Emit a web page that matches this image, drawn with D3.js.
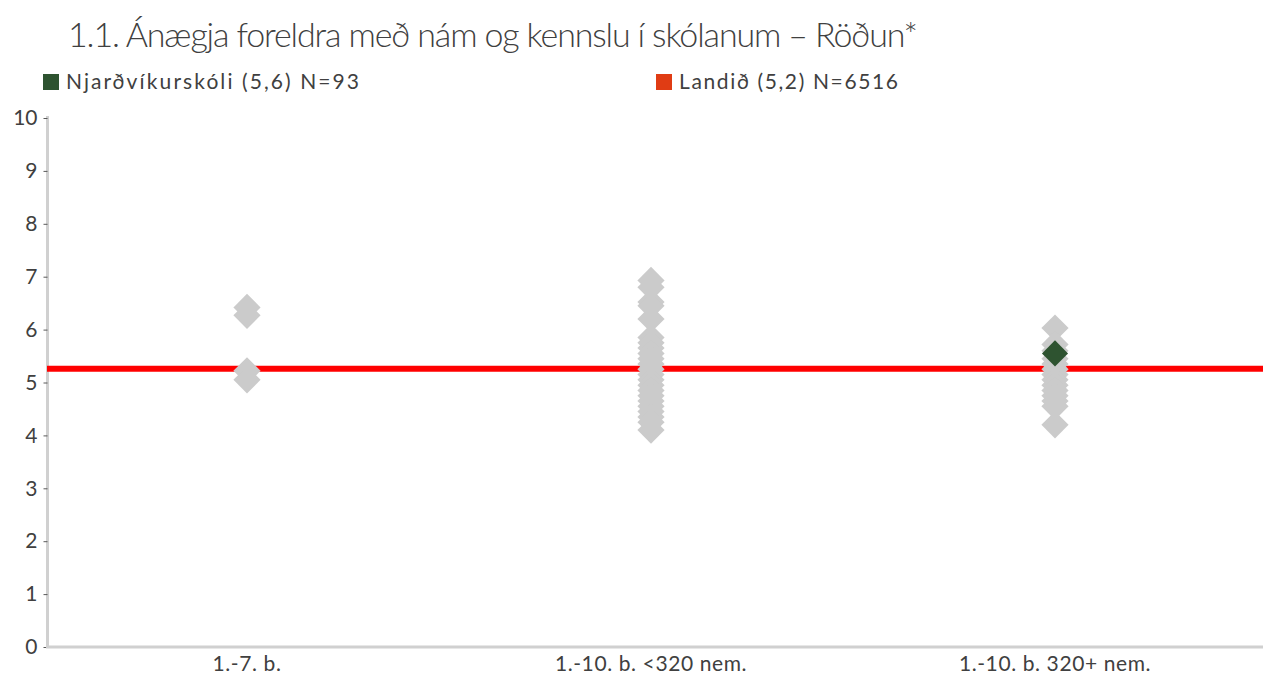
<!DOCTYPE html>
<html><head><meta charset="utf-8">
<script src="https://cdn.jsdelivr.net/npm/d3@7"></script>
<style>body{margin:0;background:#fff}svg{display:block}text{font-family:Lato,"Open Sans",sans-serif}</style>
</head><body>
<script>
const titleText = "1.1. Ánægja foreldra með nám og kennslu í skólanum – Röðun*";
const categories = ["1.-7. b.", "1.-10. b. <320 nem.", "1.-10. b. 320+ nem."];
const legendLabels = ["Njarðvíkurskóli (5,6) N=93", "Landið (5,2) N=6516"];
const yTicks = [0,1,2,3,4,5,6,7,8,9,10];
const group1 = [6.42, 6.27, 5.22, 5.05];
const group2 = [6.93, 6.8, 6.52, 6.45, 6.2, 5.85, 5.75, 5.65, 5.55, 5.45, 5.35, 5.25, 5.15, 5.05, 4.95, 4.85, 4.75, 4.65, 4.55, 4.45, 4.35, 4.25, 4.1];
const group3 = [6.03, 5.72, 5.6, 5.45, 5.35, 5.25, 5.15, 5.05, 4.95, 4.85, 4.75, 4.65, 4.55, 4.2];
const schoolCategory = "1.-10. b. 320+ nem.";
const schoolValue = 5.55;
const nationalValue = 5.26;

const W = 1272, H = 679;
const svg = d3.select("body").append("svg").attr("width", W).attr("height", H);
const y = d3.scaleLinear().domain([0, 10]).range([647, 118]);
const x = d3.scaleBand().domain(categories).range([45, 1257]);

// title
svg.append("text").attr("x", 68).attr("y", 47).attr("font-size", 34).attr("font-weight", 300)
  .attr("fill", "#404040").attr("textLength", 850).attr("lengthAdjust", "spacing").text(titleText);

// legend
const legendColors = ["#2E5330", "#E03C14"];
const legendX = [43, 656];
const legendW = [296, 222];
legendLabels.forEach((l, i) => {
  svg.append("rect").attr("x", legendX[i]).attr("y", 74).attr("width", 16).attr("height", 16).attr("fill", legendColors[i]);
  svg.append("text").attr("x", legendX[i] + 23).attr("y", 89).attr("font-size", 21).attr("fill", "#404040")
    .attr("textLength", legendW[i] - 3).attr("lengthAdjust", "spacing").text(l);
});

// y axis
const ya = svg.append("g").attr("transform", "translate(47.5,0)")
  .call(d3.axisLeft(y).tickValues(yTicks).tickSize(4).tickPadding(6).tickFormat(d3.format("d")));
ya.select(".domain").attr("stroke", "#D0D0D0").attr("stroke-width", 3).attr("d", `M0,${y(10)-2}V${y(0)}`);
ya.selectAll(".tick line").attr("stroke", "#595959");
ya.selectAll(".tick text").attr("font-size", 21).attr("fill", "#404040").attr("font-family", "Lato, sans-serif");

// x axis
const xa = svg.append("g").attr("transform", `translate(0,${y(0)})`)
  .call(d3.axisBottom(x).tickSize(0).tickPadding(6));
xa.select(".domain").remove();
xa.selectAll(".tick text").attr("font-size", 21).attr("fill", "#404040").attr("font-family", "Lato, sans-serif").attr("dy", "0.85em")
  .attr("letter-spacing", 0.6);
svg.append("line").attr("x1", 46).attr("x2", 1263).attr("y1", y(0)).attr("y2", y(0))
  .attr("stroke", "#D0D0D0").attr("stroke-width", 3);

// national line (drawn beneath the points)
svg.append("line").attr("x1", 47).attr("x2", 1263).attr("y1", y(nationalValue)).attr("y2", y(nationalValue))
  .attr("stroke", "#FF0000").attr("stroke-width", 6);

// gray points
const groups = [group1, group2, group3];
const pts = [];
groups.forEach((g, i) => g.forEach(v => pts.push({c: categories[i], v})));
const graySym = d3.symbol(d3.symbolSquare, 370)();
svg.append("g").selectAll("path").data(pts).join("path")
  .attr("d", graySym)
  .attr("transform", d => `translate(${x(d.c) + x.bandwidth()/2},${y(d.v)}) rotate(45)`)
  .attr("fill", "#CBCBCB");

// school point
svg.append("path").attr("d", d3.symbol(d3.symbolSquare, 340)())
  .attr("transform", `translate(${x(schoolCategory) + x.bandwidth()/2},${y(schoolValue)}) rotate(45)`)
  .attr("fill", "#2E5330");
</script>
</body></html>
